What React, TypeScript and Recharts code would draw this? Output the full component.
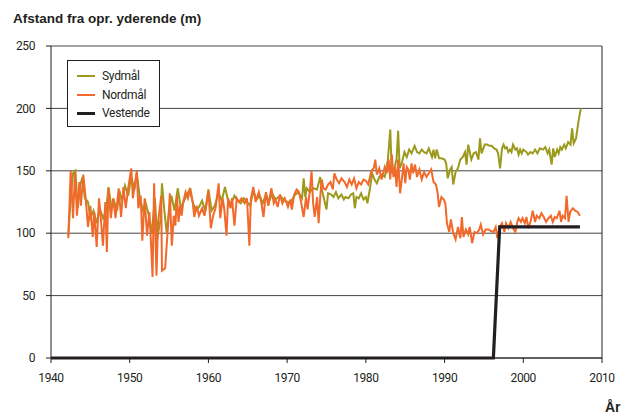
import React from 'react'
import {
  CartesianGrid,
  Legend,
  Line,
  LineChart,
  ReferenceLine,
  XAxis,
  YAxis,
} from 'recharts'

// Sydmål
const sydYears = [
  1942.2, 1942.5, 1942.8, 1943.1, 1943.4, 1943.7, 1944.0, 1944.3, 1944.7, 1945.0,
  1945.4, 1945.8, 1946.2, 1946.6, 1947.0, 1947.3, 1947.7, 1948.0, 1948.4, 1948.7,
  1949.0, 1949.4, 1949.8, 1950.2, 1950.6, 1950.9, 1951.3, 1951.7, 1952.0, 1952.4,
  1952.8, 1953.2, 1953.5, 1953.9, 1954.1, 1954.4, 1954.7, 1955.0, 1955.3, 1955.7,
  1956.1, 1956.5, 1956.9, 1957.2, 1957.6, 1958.0, 1958.4, 1958.8, 1959.2, 1959.6,
  1960.0, 1960.4, 1960.8, 1961.3, 1961.7, 1962.1, 1962.5, 1962.9, 1963.3, 1963.7,
  1964.1, 1964.5, 1964.9, 1965.3, 1965.7, 1966.1, 1966.5, 1966.9, 1967.3, 1967.7,
  1968.1, 1968.5, 1969.1, 1969.7, 1970.4, 1970.9, 1971.4, 1971.9, 1972.1, 1972.3,
  1972.5, 1972.9, 1973.3, 1973.8, 1974.2, 1974.4, 1974.7, 1975.0, 1975.2, 1975.6,
  1975.9, 1976.2, 1976.5, 1976.9, 1977.2, 1977.4, 1977.8, 1978.1, 1978.4, 1978.6,
  1978.8, 1979.1, 1979.4, 1979.7, 1980.0, 1980.2, 1980.5, 1980.8, 1981.1, 1981.4,
  1981.7, 1982.0, 1982.4, 1982.8, 1983.1, 1983.3, 1983.6, 1983.9, 1984.1, 1984.3,
  1984.6, 1984.9, 1985.2, 1985.5, 1985.8, 1986.2, 1986.5, 1986.8, 1987.1, 1987.4,
  1987.7, 1988.0, 1988.4, 1988.6, 1988.8, 1989.0, 1989.3, 1989.6, 1990.0, 1990.2,
  1990.4, 1990.7, 1990.9, 1991.1, 1991.4, 1991.7, 1992.0, 1992.3, 1992.6, 1992.8,
  1993.0, 1993.4, 1993.7, 1994.0, 1994.3, 1994.5, 1994.7, 1995.1, 1995.4, 1995.7,
  1996.0, 1996.3, 1996.6, 1996.8, 1997.05, 1997.3, 1997.5, 1997.7, 1997.9, 1998.1,
  1998.3, 1998.5, 1998.7, 1999.0, 1999.2, 1999.4, 1999.6, 1999.8, 2000.0, 2000.4,
  2000.6, 2000.9, 2001.2, 2001.5, 2001.8, 2002.1, 2002.5, 2002.8, 2003.1, 2003.3,
  2003.6, 2003.8, 2004.0, 2004.3, 2004.5, 2004.7, 2004.9, 2005.2, 2005.4, 2005.7,
  2006.0, 2006.2, 2006.4, 2006.7, 2007.0, 2007.3,
]
const sydValues = [
  98, 128, 148, 150, 120, 138, 145, 128, 125, 112,
  118, 108, 120, 112, 118, 137, 120, 126, 118, 134,
  126, 138, 130, 145, 135, 148, 128, 118, 125, 115,
  100, 128, 96, 110, 140, 118, 100, 118, 130, 118,
  136, 120, 126, 130, 135, 125, 118, 121, 126, 118,
  135, 118, 122, 132, 126, 137, 126, 124, 130, 126,
  124, 128, 125, 122, 134, 127, 130, 124, 131, 125,
  132, 127, 130, 126, 124, 130, 133, 128, 144, 129,
  136, 133, 136, 135, 145, 135, 127, 119, 132, 131,
  129, 133, 128, 131, 127, 129, 128, 131, 132, 120,
  129, 128, 132, 127, 129, 124, 135, 148, 143, 140,
  145, 147, 145, 159, 183, 148, 152, 159, 182, 152,
  157, 165, 161, 167, 164, 170, 165, 164, 167, 165,
  164, 168, 161, 167, 160, 167, 160, 160, 159, 156,
  144, 151, 153, 139, 149, 152, 159, 161, 165, 155,
  171, 159, 164, 165, 159, 176, 164, 171, 171, 170,
  170, 168, 167, 164, 152, 168, 171, 168, 169, 165,
  167, 165, 171, 167, 168, 163, 167, 164, 167, 165,
  163, 165, 164, 167, 164, 168, 167, 169, 164, 167,
  155, 168, 161, 167, 164, 169, 167, 171, 168, 173,
  171, 184, 172, 176, 189, 200,
]

// Nordmål
const nordYears = [
  1942.2, 1942.5, 1942.8, 1943.05, 1943.3, 1943.6, 1943.8, 1944.1, 1944.4, 1944.7,
  1945.0, 1945.3, 1945.5, 1945.8, 1946.1, 1946.4, 1946.6, 1946.9, 1947.1, 1947.3,
  1947.6, 1947.9, 1948.2, 1948.6, 1948.9, 1949.2, 1949.5, 1949.8, 1950.2, 1950.4,
  1950.7, 1950.9, 1951.1, 1951.4, 1951.6, 1951.9, 1952.2, 1952.5, 1952.7, 1952.9,
  1953.1, 1953.4, 1953.6, 1954.0, 1954.1, 1954.5, 1954.9, 1955.1, 1955.35, 1955.6,
  1955.8, 1956.0, 1956.2, 1956.4, 1956.6, 1956.8, 1957.1, 1957.4, 1957.7, 1958.0,
  1958.2, 1958.5, 1958.8, 1959.2, 1959.5, 1959.8, 1960.0, 1960.3, 1960.6, 1960.9,
  1961.3, 1961.5, 1961.8, 1962.0, 1962.3, 1962.5, 1962.8, 1963.0, 1963.3, 1963.6,
  1963.9, 1964.2, 1964.6, 1964.9, 1965.2, 1965.4, 1965.7, 1966.0, 1966.4, 1966.7,
  1967.0, 1967.3, 1967.6, 1968.0, 1968.3, 1968.5, 1968.8, 1969.1, 1969.4, 1969.7,
  1970.1, 1970.4, 1970.6, 1970.9, 1971.2, 1971.5, 1971.8, 1972.1, 1972.4, 1972.6,
  1972.9, 1973.1, 1973.3, 1973.5, 1973.8, 1974.0, 1974.2, 1974.4, 1974.6, 1974.9,
  1975.2, 1975.5, 1975.8, 1976.0, 1976.3, 1976.6, 1976.9, 1977.3, 1977.6, 1977.9,
  1978.2, 1978.5, 1978.8, 1979.1, 1979.4, 1979.7, 1980.0, 1980.3, 1980.7, 1981.0,
  1981.2, 1981.4, 1981.7, 1982.0, 1982.4, 1982.65, 1982.9, 1983.1, 1983.3, 1983.5,
  1983.7, 1983.9, 1984.1, 1984.35, 1984.6, 1984.8, 1985.0, 1985.2, 1985.4, 1985.6,
  1985.8, 1986.0, 1986.25, 1986.5, 1986.8, 1987.1, 1987.4, 1987.7, 1988.0, 1988.3,
  1988.6, 1988.9, 1989.1, 1989.3, 1989.6, 1989.9, 1990.1, 1990.3, 1990.6, 1990.8,
  1991.1, 1991.4, 1991.7, 1992.0, 1992.2, 1992.4, 1992.7, 1993.0, 1993.2, 1993.5,
  1993.8, 1994.1, 1994.4, 1994.6, 1994.9, 1995.2, 1995.6, 1995.8, 1996.2, 1996.5,
  1996.7, 1997.0, 1997.3, 1997.6, 1997.8, 1998.1, 1998.4, 1998.7, 1999.0, 1999.2,
  1999.4, 1999.7, 1999.9, 2000.2, 2000.4, 2000.65, 2000.95, 2001.2, 2001.5, 2001.7,
  2002.05, 2002.3, 2002.6, 2002.9, 2003.2, 2003.5, 2003.75, 2004.0, 2004.25, 2004.6,
  2004.8, 2005.0, 2005.3, 2005.5, 2005.75, 2005.95, 2006.3, 2006.6, 2006.9, 2007.2,
]
const nordValues = [
  96, 150, 112, 149, 114, 141, 122, 147, 128, 105,
  122, 97, 117, 89, 128, 106, 90, 125, 85, 136,
  112, 128, 112, 136, 113, 137, 120, 136, 152, 128,
  141, 150, 120, 130, 94, 128, 98, 117, 93, 65,
  140, 66, 109, 130, 70, 72, 109, 132, 90, 114,
  106, 130, 109, 122, 114, 125, 133, 128, 136, 125,
  113, 122, 114, 120, 114, 125, 134, 104, 114, 120,
  140, 112, 128, 120, 98, 128, 120, 128, 106, 128,
  125, 128, 124, 128, 90, 128, 137, 125, 133, 125,
  113, 133, 122, 136, 124, 127, 121, 131, 124, 128,
  121, 127, 119, 131, 135, 133, 124, 113, 129, 119,
  135, 150, 124, 113, 129, 108, 129, 143, 136, 135,
  139, 141, 135, 148, 143, 140, 144, 141, 137, 143,
  139, 144, 136, 141, 139, 143, 142, 139, 150, 152,
  159, 147, 152, 143, 153, 148, 159, 143, 163, 145,
  153, 137, 159, 132, 145, 156, 140, 153, 151, 143,
  156, 148, 155, 145, 151, 143, 149, 145, 148, 151,
  141, 139, 133, 121, 129, 127, 124, 108, 101, 111,
  100, 95, 105, 96, 113, 97, 103, 99, 105, 92,
  101, 100, 103, 107, 99, 103, 103, 102, 101, 105,
  96, 105, 108, 101, 108, 104, 109, 104, 101, 108,
  112, 109, 112, 108, 113, 104, 110, 118, 109, 114,
  112, 116, 113, 109, 112, 114, 109, 113, 112, 118,
  109, 114, 112, 130, 109, 117, 120, 118, 117, 114,
]

// Vestende
const vestYears = [1940, 1996.2, 1997.0, 2007.2]
const vestValues = [0, 0, 105, 105]

const xTicks = [1940, 1950, 1960, 1970, 1980, 1990, 2000, 2010]
const yTicks = [0, 50, 100, 150, 200, 250]

const toPoints = (years: number[], values: number[]) =>
  years.map((year, i) => ({ year, value: values[i] }))

const series = [
  { name: 'Sydmål', color: '#9b9a1c', width: 2, data: toPoints(sydYears, sydValues) },
  { name: 'Nordmål', color: '#f26a2b', width: 2, data: toPoints(nordYears, nordValues) },
  { name: 'Vestende', color: '#231f20', width: 3.2, data: toPoints(vestYears, vestValues) },
]

const font = 'Roboto, sans-serif'
const ink = '#231f20'

const LegendBox = () => (
  <div
    style={{
      border: `1px solid ${ink}`,
      background: '#fff',
      width: 93,
      height: 67,
      paddingTop: 6,
      boxSizing: 'border-box',
      fontFamily: font,
      fontSize: 12,
      letterSpacing: -0.3,
      color: ink,
    }}
  >
    {series.map((s) => (
      <div key={s.name} style={{ display: 'flex', alignItems: 'center', height: 18.5 }}>
        <span
          style={{
            display: 'inline-block',
            width: 18,
            height: s.width > 2 ? 3 : 2,
            background: s.color,
            marginLeft: 9,
            marginRight: 7,
          }}
        />
        <span>{s.name}</span>
      </div>
    ))}
  </div>
)

const tickStyle = { fill: ink, fontSize: 12, fontFamily: font, letterSpacing: -0.4 }

const App = () => (
  <div
    style={{
      position: 'absolute',
      left: 0,
      top: 0,
      width: 631,
      height: 419,
      background: '#fff',
      color: ink,
    }}
  >
    <div
      style={{
        position: 'absolute',
        left: 13,
        top: 11,
        fontFamily: "'Liberation Sans', sans-serif",
        fontWeight: 'bold',
        fontSize: 13.5,
        whiteSpace: 'nowrap',
      }}
    >
      Afstand fra opr. yderende (m)
    </div>
    <LineChart width={631} height={419} margin={{ top: 46, right: 29, bottom: 0, left: 0 }}>
      <CartesianGrid horizontal vertical={false} stroke="#444" />
      <XAxis
        type="number"
        dataKey="year"
        domain={[1940, 2010]}
        ticks={xTicks}
        allowDataOverflow
        height={61}
        tickSize={5}
        tickMargin={10}
        stroke={ink}
        tick={tickStyle}
      />
      <YAxis
        type="number"
        domain={[0, 250]}
        ticks={yTicks}
        width={51}
        tickSize={5}
        tickMargin={11}
        stroke={ink}
        tick={tickStyle}
      />
      <ReferenceLine x={2010} stroke={ink} />
      {series.map((s) => (
        <Line
          key={s.name}
          data={s.data}
          dataKey="value"
          name={s.name}
          type="linear"
          stroke={s.color}
          strokeWidth={s.width}
          dot={false}
          isAnimationActive={false}
        />
      ))}
      <Legend
        layout="vertical"
        align="center"
        verticalAlign="middle"
        wrapperStyle={{ left: 67, top: 60, width: 'auto' }}
        content={() => <LegendBox />}
      />
    </LineChart>
    <div
      style={{
        position: 'absolute',
        left: 605,
        top: 399,
        fontFamily: "'Liberation Sans', sans-serif",
        fontWeight: 'bold',
        fontSize: 14,
      }}
    >
      År
    </div>
  </div>
)

export default App
